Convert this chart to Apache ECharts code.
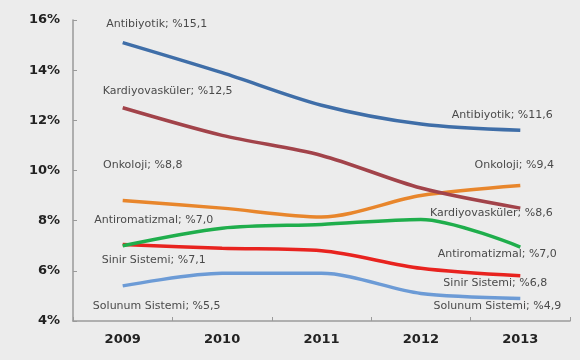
<!DOCTYPE html>
<html><head><meta charset="utf-8">
<script src="https://cdn.jsdelivr.net/npm/echarts@6/dist/echarts.min.js"></script>
<style>html,body{margin:0;padding:0;background:#ececec}#c{width:580px;height:360px}</style>
</head><body><div id="c"></div>
<script>
var years = ['2009','2010','2011','2012','2013'];
var seriesNames = ['Antibiyotik','Kardiyovasküler','Onkoloji','Antiromatizmal','Sinir Sistemi','Solunum Sistemi'];
var antibiyotik = [15.1, 13.9, 12.6, 11.85, 11.6];
var kardiyo = [12.5, 11.4, 10.6, 9.3, 8.5];
var onkoloji = [8.8, 8.5, 8.15, 9.0, 9.4];
var antiromatizmal = [7.0, 7.7, 7.85, 8.05, 6.95];
var sinir = [7.05, 6.9, 6.8, 6.1, 5.8];
var solunum = [5.4, 5.9, 5.9, 5.1, 4.9];
var startLabels = ['%15,1','%12,5','%8,8','%7,0','%7,1','%5,5'];
var endLabels = ['%11,6','%8,6','%9,4','%7,0','%6,8','%4,9'];
var yTicks = [4, 6, 8, 10, 12, 14, 16];

var values = [antibiyotik, kardiyo, onkoloji, antiromatizmal, sinir, solunum];
var colors = ['#3f6ea8','#a2434a','#e8862c','#1fae4c','#e8231f','#6c9bd6'];
var FONT = 'DejaVu Sans, Arial, sans-serif';
// label offsets (style), relative to first / last points
var startOff = [[34,-18],[45,-17],[20,-35],[31,-26],[31,16],[34,20]];
var endOff = [[-18,-15],[-29,5],[-6,-20],[-23,7],[-25,7],[-23,8]];

var series = values.map(function(vals, i){
  return {
    name: seriesNames[i], type: 'line', smooth: 0.3,
    symbol: 'circle', symbolSize: 0.1,
    lineStyle: {width: 3.5, color: colors[i]},
    itemStyle: {color: colors[i]},
    z: 10 - i,
    data: vals.map(function(v, j){
      var d = {value: v};
      if (j === 0 || j === vals.length - 1) {
        d.label = {
          show: true, position: 'inside',
          offset: j === 0 ? startOff[i] : endOff[i],
          align: 'center', verticalAlign: 'middle',
          formatter: seriesNames[i] + '; ' + (j === 0 ? startLabels[i] : endLabels[i]),
          color: '#4a4a4a', fontSize: 11, fontFamily: FONT
        };
      }
      return d;
    })
  };
});

var chart = echarts.init(document.getElementById('c'), null, {renderer: 'canvas'});
chart.setOption({
  backgroundColor: '#ececec',
  animation: false,
  grid: {left: 73, right: 10, top: 20, bottom: 39},
  xAxis: {
    type: 'category', data: years, boundaryGap: true,
    axisLine: {lineStyle: {color: '#9a9a9a', width: 1.5}},
    axisTick: {show: true, alignWithLabel: false, length: 4, inside: true, lineStyle: {color: '#9a9a9a'}},
    axisLabel: {color: '#222', fontWeight: 'bold', fontSize: 13, margin: 12, fontFamily: FONT}
  },
  yAxis: {
    type: 'value', min: yTicks[0], max: yTicks[yTicks.length-1], interval: 2,
    splitLine: {show: false},
    axisLine: {show: true, lineStyle: {color: '#9a9a9a', width: 1.5}},
    axisTick: {show: true, length: 4, inside: true, lineStyle: {color: '#9a9a9a'}},
    axisLabel: {color: '#222', fontWeight: 'bold', fontSize: 13, margin: 13, formatter: '{value}%', fontFamily: FONT}
  },
  series: series
});
</script></body></html>
